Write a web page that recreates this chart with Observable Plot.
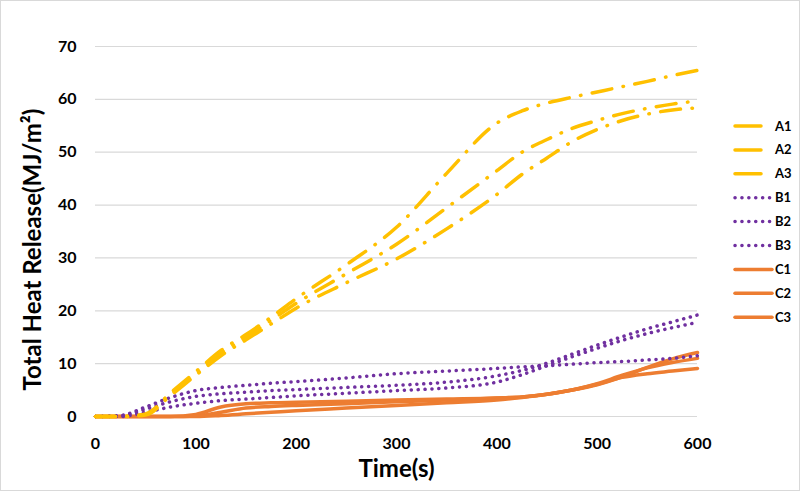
<!DOCTYPE html>
<html>
<head>
<meta charset="utf-8">
<script src="https://cdn.jsdelivr.net/npm/d3@7"></script>
<script src="https://cdn.jsdelivr.net/npm/@observablehq/plot@0.6"></script>
<style>
  body { margin: 0; background: #fff; }
  #wrap { position: relative; width: 801px; height: 494px; background: #fff; font-family: Lato, "Open Sans", sans-serif; }
  #frame { position: absolute; left: 0; top: 0; width: 798px; height: 489px; border: 1px solid #d9d9d9; pointer-events: none; }
  #legend { position: absolute; left: 0; top: 0; }
</style>
</head>
<body>
<div id="wrap"><div id="frame"></div></div>
<script>
// ---- data ----
const time = [0, 25, 50, 75, 100, 125, 150, 175, 200, 250, 300, 350, 400, 425, 450, 475, 500, 525, 550, 575, 600];
const A1 = [0, 0, 0.5, 4.5, 8.5, 12.5, 15.5, 18.8, 22.3, 28.7, 35.8, 46, 55.5, 57.8, 59.3, 60.4, 61.4, 62.4, 63.4, 64.5, 65.5];
const A2 = [0, 0, 0.4, 4.2, 8, 12, 15, 18.2, 21.4, 27, 32.6, 39.5, 46.5, 50, 52.4, 54.5, 56, 57.3, 58.3, 59.1, 59.7];
const A3 = [0, 0, 0.3, 4, 7.8, 11.5, 14.5, 17.5, 20.5, 25.3, 29.8, 35.5, 42, 45.8, 48.9, 52, 54.3, 56, 57.2, 58, 58.4];
const B1 = [0, 0.2, 1.8, 3.6, 4.9, 5.5, 5.9, 6.3, 6.6, 7.3, 8.1, 8.6, 9.1, 9.4, 9.6, 9.9, 10.2, 10.4, 10.7, 11, 11.5];
const B2 = [0, 0.1, 1.4, 2.8, 3.8, 4.3, 4.6, 4.9, 5.1, 5.5, 5.9, 6.5, 7.7, 8.7, 10.1, 11.8, 13.5, 15.1, 16.6, 17.9, 19.2];
const B3 = [0, 0, 0.8, 1.8, 2.5, 3, 3.3, 3.6, 3.9, 4.4, 4.9, 5.4, 6.5, 7.9, 9.6, 11.3, 12.9, 14.4, 15.7, 16.8, 17.8];
const C1 = [0, 0, 0, 0, 0.4, 1.8, 2.4, 2.6, 2.7, 2.9, 3.1, 3.3, 3.5, 3.7, 4.2, 5, 6, 7.5, 9.3, 10.9, 12.1];
const C2 = [0, 0, 0, 0, 0.1, 0.8, 1.6, 1.9, 2.1, 2.4, 2.8, 3.1, 3.5, 3.7, 4.2, 5, 6.2, 7.8, 9.2, 10.2, 11];
const C3 = [0, 0, 0, 0, 0, 0.2, 0.5, 0.8, 1.1, 1.6, 2.1, 2.6, 3.1, 3.6, 4.2, 5, 6.1, 7.4, 8.1, 8.6, 9.1];
const seriesNames = ["A1", "A2", "A3", "B1", "B2", "B3", "C1", "C2", "C3"];
const xTicks = [0, 100, 200, 300, 400, 500, 600];
const yTicks = [0, 10, 20, 30, 40, 50, 60, 70];
const xLabel = "Time(s)";
const yLabel = "Total Heat Release(MJ/m²)";

// ---- styles ----
const groupStyle = {
  A: {color: "#FFC000", dash: "20,11.5,0.5,11.5"},
  B: {color: "#7030A0", dash: "0.1,6.8"},
  C: {color: "#ED7D31", dash: null}
};

const values = {A1, A2, A3, B1, B2, B3, C1, C2, C3};
const rows = seriesNames.flatMap(name => time.map((t, i) => ({series: name, group: name[0], t, v: values[name][i]})));

const lineMark = (g) => Plot.line(rows.filter(d => d.group === g), {
  x: "t", y: "v", z: "series",
  stroke: groupStyle[g].color, strokeWidth: 3.5,
  strokeDasharray: groupStyle[g].dash, strokeLinecap: "round",
  curve: "monotone-x"
});

const chart = Plot.plot({
  width: 801, height: 494,
  marginLeft: 95, marginRight: 104, marginTop: 46, marginBottom: 78,
  x: {domain: [0, 600]},
  y: {domain: [0, 70]},
  style: {fontFamily: "Lato, 'Open Sans', sans-serif", fontWeight: "bold", fontSize: "16px", color: "#000", background: "transparent"},
  marks: [
    Plot.gridY(yTicks, {stroke: "#d9d9d9", strokeOpacity: 1, strokeWidth: 1.2}),
    Plot.axisY(yTicks, {tickSize: 0, tickPadding: 19, label: null, fontSize: 16, fontWeight: "bold"}),
    Plot.axisX(xTicks, {tickSize: 0, tickPadding: 21, label: null, fontSize: 16, fontWeight: "bold"}),
    lineMark("C"),
    lineMark("B"),
    lineMark("A"),
    Plot.text([yLabel], {frameAnchor: "left", rotate: -90, dx: -62, dy: 18, textAnchor: "middle", lineAnchor: "middle", fontSize: 24, fontWeight: "bold", fill: "#000"}),
    Plot.text([xLabel], {frameAnchor: "bottom", dy: 53, textAnchor: "middle", lineAnchor: "middle", fontSize: 24, fontWeight: "bold", fill: "#000"})
  ]
});
const wrap = document.getElementById("wrap");
wrap.insertBefore(chart, wrap.firstChild);

// ---- legend ----
const legend = d3.select(wrap).append("svg").attr("id", "legend").attr("width", 801).attr("height", 494);
seriesNames.forEach((name, i) => {
  const g = name[0];
  const y = 126 + i * 23.9;
  const x2 = g === "A" ? 761 : 772;
  legend.append("line")
    .attr("x1", 735).attr("x2", x2).attr("y1", y).attr("y2", y)
    .attr("stroke", groupStyle[g].color).attr("stroke-width", 3.5)
    .attr("stroke-linecap", "round")
    .attr("stroke-dasharray", g === "B" ? groupStyle.B.dash : null);
  legend.append("text")
    .attr("x", 775).attr("y", y).attr("dy", "0.35em")
    .attr("font-family", "Lato, 'Open Sans', sans-serif").attr("font-weight", "bold").attr("font-size", 13)
    .attr("fill", "#000").text(name);
});
</script>
</body>
</html>
